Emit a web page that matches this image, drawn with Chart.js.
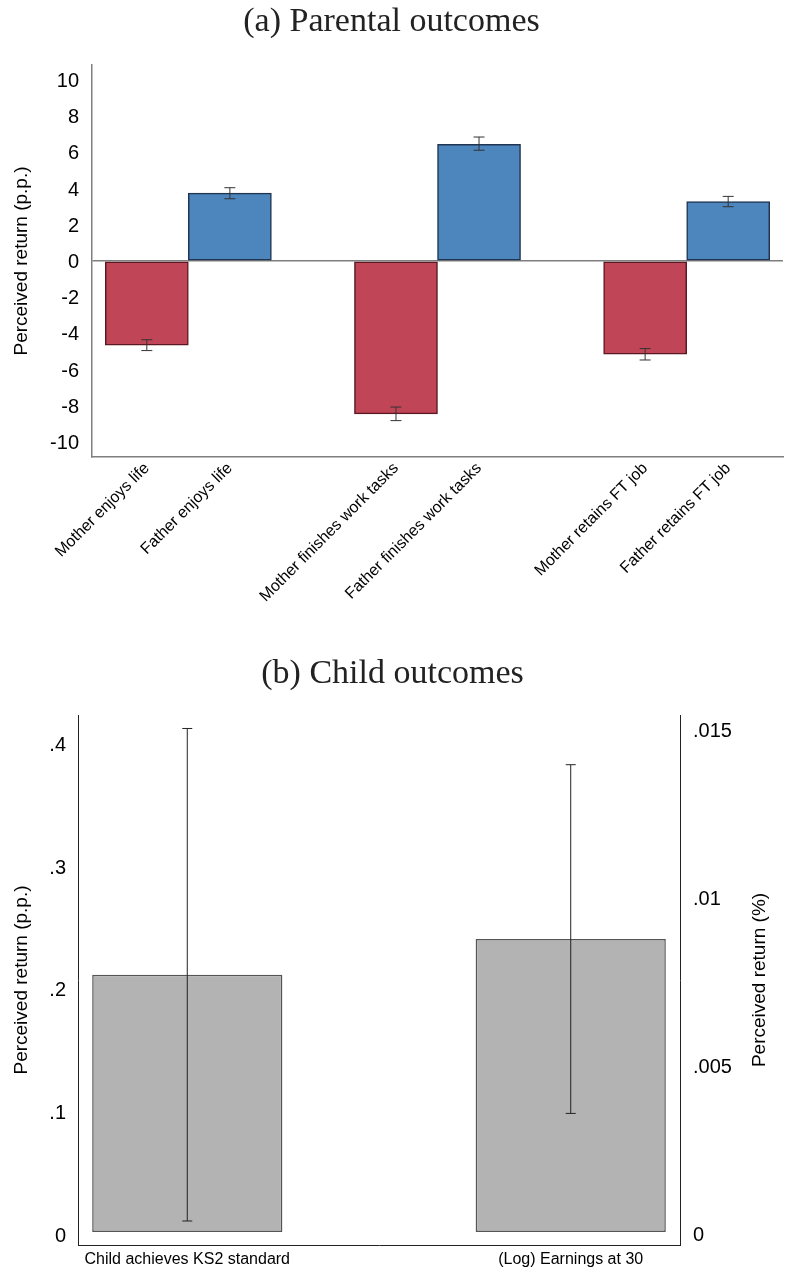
<!DOCTYPE html>
<html>
<head>
<meta charset="utf-8">
<script src="https://cdn.jsdelivr.net/npm/chart.js@4.4.0/dist/chart.umd.min.js"></script>
<style>
  body { margin: 0; background: #fff; }
  canvas { display: block; }
</style>
</head>
<body>
<canvas id="parental" width="785" height="630"></canvas>
<canvas id="child" width="785" height="640"></canvas>
<script>
// (a) Parental outcomes
const parentLabels = ['Mother enjoys life', 'Father enjoys life', 'Mother finishes work tasks',
                      'Father finishes work tasks', 'Mother retains FT job', 'Father retains FT job'];
const parentValues = [-4.65, 3.75, -8.45, 6.45, -5.15, 3.28];
const parentLow    = [-4.95, 3.44, -8.82, 6.12, -5.47, 3.00];
const parentHigh   = [-4.35, 4.05, -8.07, 6.85, -4.84, 3.57];
const parentTicks  = [-10, -8, -6, -4, -2, 0, 2, 4, 6, 8, 10];

// (b) Child outcomes
const childLabels = ['Child achieves KS2 standard', '(Log) Earnings at 30'];
const childValues = [0.21, 0.00872];
const childLow    = [0.009, 0.00353];
const childHigh   = [0.411, 0.01391];
const childTicksLeft  = [0, 0.1, 0.2, 0.3, 0.4];
const childTicksRight = [0, 0.005, 0.01, 0.015];

const SANS = 'Liberation Sans, Arial, Helvetica, sans-serif';
const SERIF = 'Liberation Serif, Times New Roman, serif';
Chart.defaults.color = '#000';
Chart.defaults.font.family = SANS;

// blank slot after each mother/father pair
function toSlots(arr, blank) {
  const out = [];
  arr.forEach((v, i) => {
    out.push(v);
    if (i % 2 === 1 && i < arr.length - 1) out.push(blank);
  });
  return out;
}

// category scale with a custom empty margin at both ends (in slots)
function edgeOffset(edge) {
  return (scale) => {
    const n = scale.ticks.length;
    scale._startValue = scale.min - edge;
    scale._valueRange = (n - 1) + 2 * edge;
  };
}

function fixedTicks(values) {
  return (scale) => { scale.ticks = values.map(v => ({ value: v })); };
}

const errorBars = {
  id: 'errorBars',
  afterDatasetsDraw(chart, args, opts) {
    const ctx = chart.ctx;
    chart.data.datasets.forEach((ds, di) => {
      const meta = chart.getDatasetMeta(di);
      const scale = chart.scales[meta.yAxisID];
      meta.data.forEach((bar, i) => {
        if (ds.low[i] == null) return;
        const top = scale.getPixelForValue(ds.high[i]);
        const bot = scale.getPixelForValue(ds.low[i]);
        ctx.save();
        ctx.strokeStyle = opts.color;
        ctx.lineWidth = 1;
        ctx.beginPath();
        ctx.moveTo(bar.x, top); ctx.lineTo(bar.x, bot);
        ctx.moveTo(bar.x - opts.cap, top); ctx.lineTo(bar.x + opts.cap, top);
        ctx.moveTo(bar.x - opts.cap, bot); ctx.lineTo(bar.x + opts.cap, bot);
        ctx.stroke();
        ctx.restore();
      });
    });
  }
};

// right axis title reads bottom to top, like the left one
const rightTitle = {
  id: 'rightTitle',
  afterDraw(chart, args, opts) {
    const s = chart.scales.yR;
    const ctx = chart.ctx;
    ctx.save();
    ctx.translate(s.right - opts.offset, (chart.chartArea.top + chart.chartArea.bottom) / 2);
    ctx.rotate(-Math.PI / 2);
    ctx.font = opts.size + 'px ' + SANS;
    ctx.fillStyle = '#000';
    ctx.textAlign = 'center';
    ctx.textBaseline = 'middle';
    ctx.fillText(opts.text, 0, 0);
    ctx.restore();
  }
};

const tickFmt = v => v === 0 ? '0' : String(v).replace(/^(-?)0\./, '$1.');

// --- chart (a)
const parentColors = parentLabels.map(l => l.startsWith('Mother') ? '#c04657' : '#4c86bd');
const parentBorders = parentLabels.map(l => l.startsWith('Mother') ? '#5c1822' : '#1f3552');

new Chart(document.getElementById('parental'), {
  type: 'bar',
  data: {
    labels: toSlots(parentLabels, ''),
    datasets: [{
      data: toSlots(parentValues, null),
      low: toSlots(parentLow, null),
      high: toSlots(parentHigh, null),
      backgroundColor: toSlots(parentColors, 'transparent'),
      borderColor: toSlots(parentBorders, 'transparent'),
      borderWidth: 1.5,
      borderSkipped: false,
      barPercentage: 1,
      categoryPercentage: 1
    }]
  },
  options: {
    responsive: false,
    animation: false,
    layout: { padding: { left: 0, right: 2, top: 0, bottom: 0 } },
    plugins: {
      legend: { display: false },
      tooltip: { enabled: false },
      title: {
        display: true,
        text: '(a) Parental outcomes',
        font: { family: SERIF, size: 34, weight: 'normal' },
        color: '#222',
        padding: { top: 2, bottom: 22.2 }
      },
      errorBars: { color: '#333', cap: 5.5 }
    },
    scales: {
      x: {
        afterBuildTicks: edgeOffset(0.66),
        afterFit: s => { s.height = 173; },
        grid: { display: false },
        border: { color: '#7f7f7f', width: 1.5 },
        ticks: { autoSkip: false, minRotation: 45, maxRotation: 45, padding: -6,
                 font: { size: 16 }, color: '#000' }
      },
      y: {
        min: -10.83, max: 10.83,
        afterBuildTicks: fixedTicks(parentTicks),
        afterFit: s => { s.width = 92; },
        grid: {
          drawTicks: false,
          color: c => c.tick && c.tick.value === 0 ? '#7f7f7f' : 'transparent',
          lineWidth: 1.5
        },
        border: { color: '#7f7f7f', width: 1.5 },
        ticks: { padding: 13, labelOffset: 1.5, font: { size: 20 }, color: '#000', callback: tickFmt },
        title: { display: true, text: 'Perceived return (p.p.)', font: { size: 19 },
                 padding: { top: 10, bottom: 0 } }
      }
    }
  },
  plugins: [errorBars]
});

// --- chart (b)
new Chart(document.getElementById('child'), {
  type: 'bar',
  data: {
    labels: childLabels,
    datasets: [{
      data: [childValues[0], null],
      low: [childLow[0], null],
      high: [childHigh[0], null],
      yAxisID: 'y'
    }, {
      data: [null, childValues[1]],
      low: [null, childLow[1]],
      high: [null, childHigh[1]],
      yAxisID: 'yR'
    }].map(d => Object.assign(d, {
      backgroundColor: '#b3b3b3',
      borderColor: '#555',
      borderWidth: 1.5,
      borderSkipped: false,
      grouped: false,
      barPercentage: 0.496,
      categoryPercentage: 1
    }))
  },
  options: {
    responsive: false,
    animation: false,
    layout: { padding: 0 },
    plugins: {
      legend: { display: false },
      tooltip: { enabled: false },
      title: {
        display: true,
        text: '(b) Child outcomes',
        font: { family: SERIF, size: 34, weight: 'normal' },
        color: '#222',
        padding: { top: 24, bottom: 20.2 }
      },
      errorBars: { color: '#222', cap: 5 },
      rightTitle: { text: 'Perceived return (%)', size: 19, offset: 25 }
    },
    scales: {
      x: {
        afterBuildTicks: edgeOffset(0.285),
        afterFit: s => { s.height = 25; },
        grid: { display: false },
        border: { color: '#222', width: 1 },
        ticks: { autoSkip: false, maxRotation: 0, padding: -3, font: { size: 16 }, color: '#000' }
      },
      y: {
        position: 'left',
        min: -0.0106, max: 0.422,
        afterBuildTicks: fixedTicks(childTicksLeft),
        afterFit: s => { s.width = 78; },
        grid: { display: false, drawTicks: false },
        border: { color: '#222', width: 1 },
        ticks: { padding: 12, labelOffset: 4, font: { size: 20 }, color: '#000', callback: tickFmt },
        title: { display: true, text: 'Perceived return (p.p.)', font: { size: 19 },
                 padding: { top: 10, bottom: 0 } }
      },
      yR: {
        position: 'right',
        min: -0.000387, max: 0.01539,
        afterBuildTicks: fixedTicks(childTicksRight),
        afterFit: s => { s.width = 105; },
        grid: { display: false, drawTicks: false },
        border: { color: '#222', width: 1 },
        ticks: { padding: 13, labelOffset: 3, font: { size: 20 }, color: '#000', callback: tickFmt }
      }
    }
  },
  plugins: [errorBars, rightTitle]
});
</script>
</body>
</html>
